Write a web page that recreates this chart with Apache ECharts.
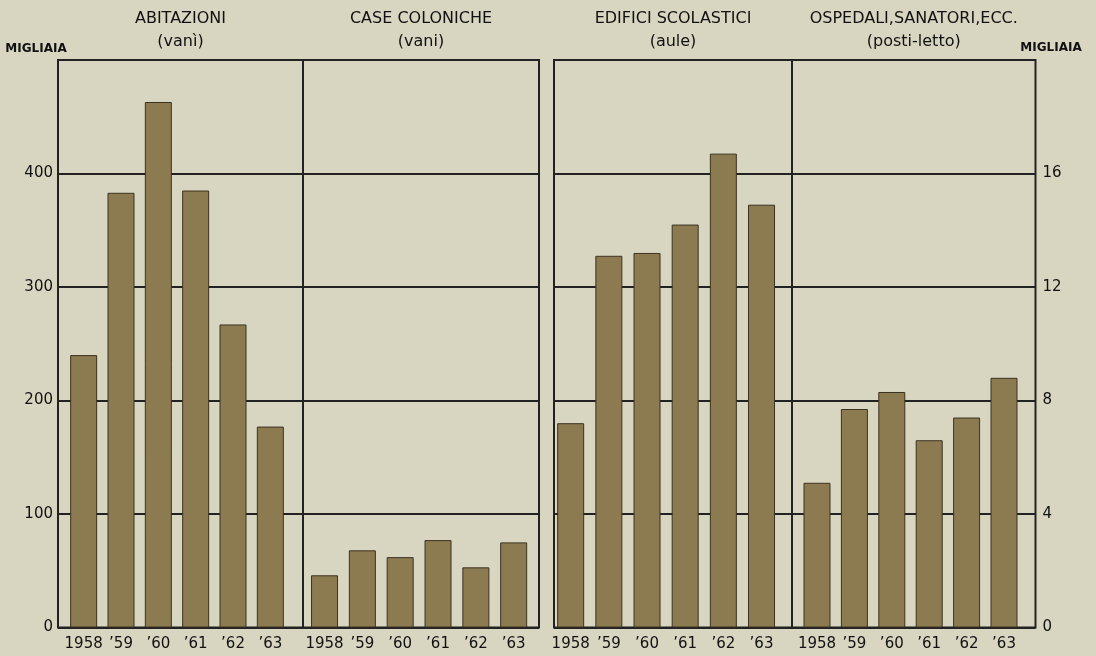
<!DOCTYPE html>
<html>
<head>
<meta charset="utf-8">
<script src="https://cdn.jsdelivr.net/npm/echarts@6/dist/echarts.min.js"></script>
<style>
html,body{margin:0;padding:0;background:#d8d6c1;}
#c{width:1096px;height:656px;}
</style>
</head>
<body>
<div id="c"></div>
<script>
// ---- data ----
const years = ['1958', '\u201959', '\u201960', '\u201961', '\u201962', '\u201963'];
const abitazioni = [240, 383, 463, 385, 267, 177];          // migliaia di vani (asse sinistro)
const caseColoniche = [46, 68, 62, 77, 53, 75];              // migliaia di vani (asse sinistro)
const edificiScolastici = [7.2, 13.1, 13.2, 14.2, 16.7, 14.9]; // migliaia di aule (asse destro)
const ospedali = [5.1, 7.7, 8.3, 6.6, 7.4, 8.8];             // migliaia di posti-letto (asse destro)
const panelTitles = ['ABITAZIONI', 'CASE COLONICHE', 'EDIFICI SCOLASTICI', 'OSPEDALI,SANATORI,ECC.'];
const panelSubtitles = ['(van\u00ec)', '(vani)', '(aule)', '(posti-letto)'];
const unitLabel = 'MIGLIAIA';
const leftMax = 500, leftInterval = 100;
const rightMax = 20, rightInterval = 4;

// ---- layout ----
const FONT = 'DejaVu Sans';
const INK = '#111111';
const BAR = '#8c7a50';
const LINE = '#222222';
const plotTop = 60, plotHeight = 567.5;
const frames = [
  {left: 58, width: 245},
  {left: 303, width: 236},
  {left: 554, width: 238},
  {left: 792, width: 243.5}
];
const barGrids = [
  {left: 65, width: 224},
  {left: 305.6, width: 227},
  {left: 551.6, width: 229},
  {left: 798.3, width: 224.4}
];
const seriesData = [abitazioni, caseColoniche, edificiScolastici, ospedali];
const useRight = [false, false, true, true];

const gridList = [], xAxisList = [], yAxisList = [], seriesList = [], titleList = [];

frames.forEach((f, i) => {
  gridList.push({left: f.left, top: plotTop, width: f.width, height: plotHeight, show: true,
    borderColor: LINE, borderWidth: 2, backgroundColor: 'transparent', z: 0});
  xAxisList.push({type: 'category', gridIndex: i, data: years, show: false});
  const r = useRight[i];
  yAxisList.push({
    type: 'value', gridIndex: i, min: 0,
    max: r ? rightMax : leftMax, interval: r ? rightInterval : leftInterval,
    position: r ? 'right' : 'left',
    axisLine: {show: false}, axisTick: {show: false},
    axisLabel: {show: i === 0 || i === 3, showMaxLabel: false, margin: i === 0 ? 5 : 7,
      color: INK, fontFamily: FONT, fontSize: 15},
    splitLine: {show: true, lineStyle: {color: LINE, width: 2}}
  });
});

barGrids.forEach((b, i) => {
  const gi = i + 4;
  gridList.push({left: b.left, top: plotTop, width: b.width, height: plotHeight, show: false});
  xAxisList.push({type: 'category', gridIndex: gi, data: years,
    axisLine: {show: false}, axisTick: {show: false},
    axisLabel: {interval: 0, margin: 9, color: INK, fontFamily: FONT, fontSize: 15}});
  const r = useRight[i];
  yAxisList.push({type: 'value', gridIndex: gi, min: 0,
    max: r ? rightMax : leftMax, interval: r ? rightInterval : leftInterval, show: false});
  seriesList.push({type: 'bar', xAxisIndex: gi, yAxisIndex: gi, data: seriesData[i],
    barWidth: 27, z: 3,
    itemStyle: {color: BAR, borderColor: '#3b3222', borderWidth: 1},
    emphasis: {disabled: true}});
  const cx = frames[i].left + frames[i].width / 2;
  titleList.push({text: panelTitles[i], left: cx, top: 11, textAlign: 'center', padding: 0,
    textStyle: {fontFamily: FONT, fontSize: 16, fontWeight: 'normal', color: INK}});
  titleList.push({text: panelSubtitles[i], left: cx, top: 34, textAlign: 'center', padding: 0,
    textStyle: {fontFamily: FONT, fontSize: 16, fontWeight: 'normal', color: INK}});
});

titleList.push({text: unitLabel, left: 36, top: 43, textAlign: 'center', padding: 0,
  textStyle: {fontFamily: FONT, fontSize: 12, fontWeight: 'bold', color: INK}});
titleList.push({text: unitLabel, left: 1051, top: 42, textAlign: 'center', padding: 0,
  textStyle: {fontFamily: FONT, fontSize: 12, fontWeight: 'bold', color: INK}});

const chart = echarts.init(document.getElementById('c'), null, {renderer: 'canvas'});
chart.setOption({
  backgroundColor: '#d8d6c1',
  animation: false,
  title: titleList,
  grid: gridList,
  xAxis: xAxisList,
  yAxis: yAxisList,
  series: seriesList
});
</script>
</body>
</html>
